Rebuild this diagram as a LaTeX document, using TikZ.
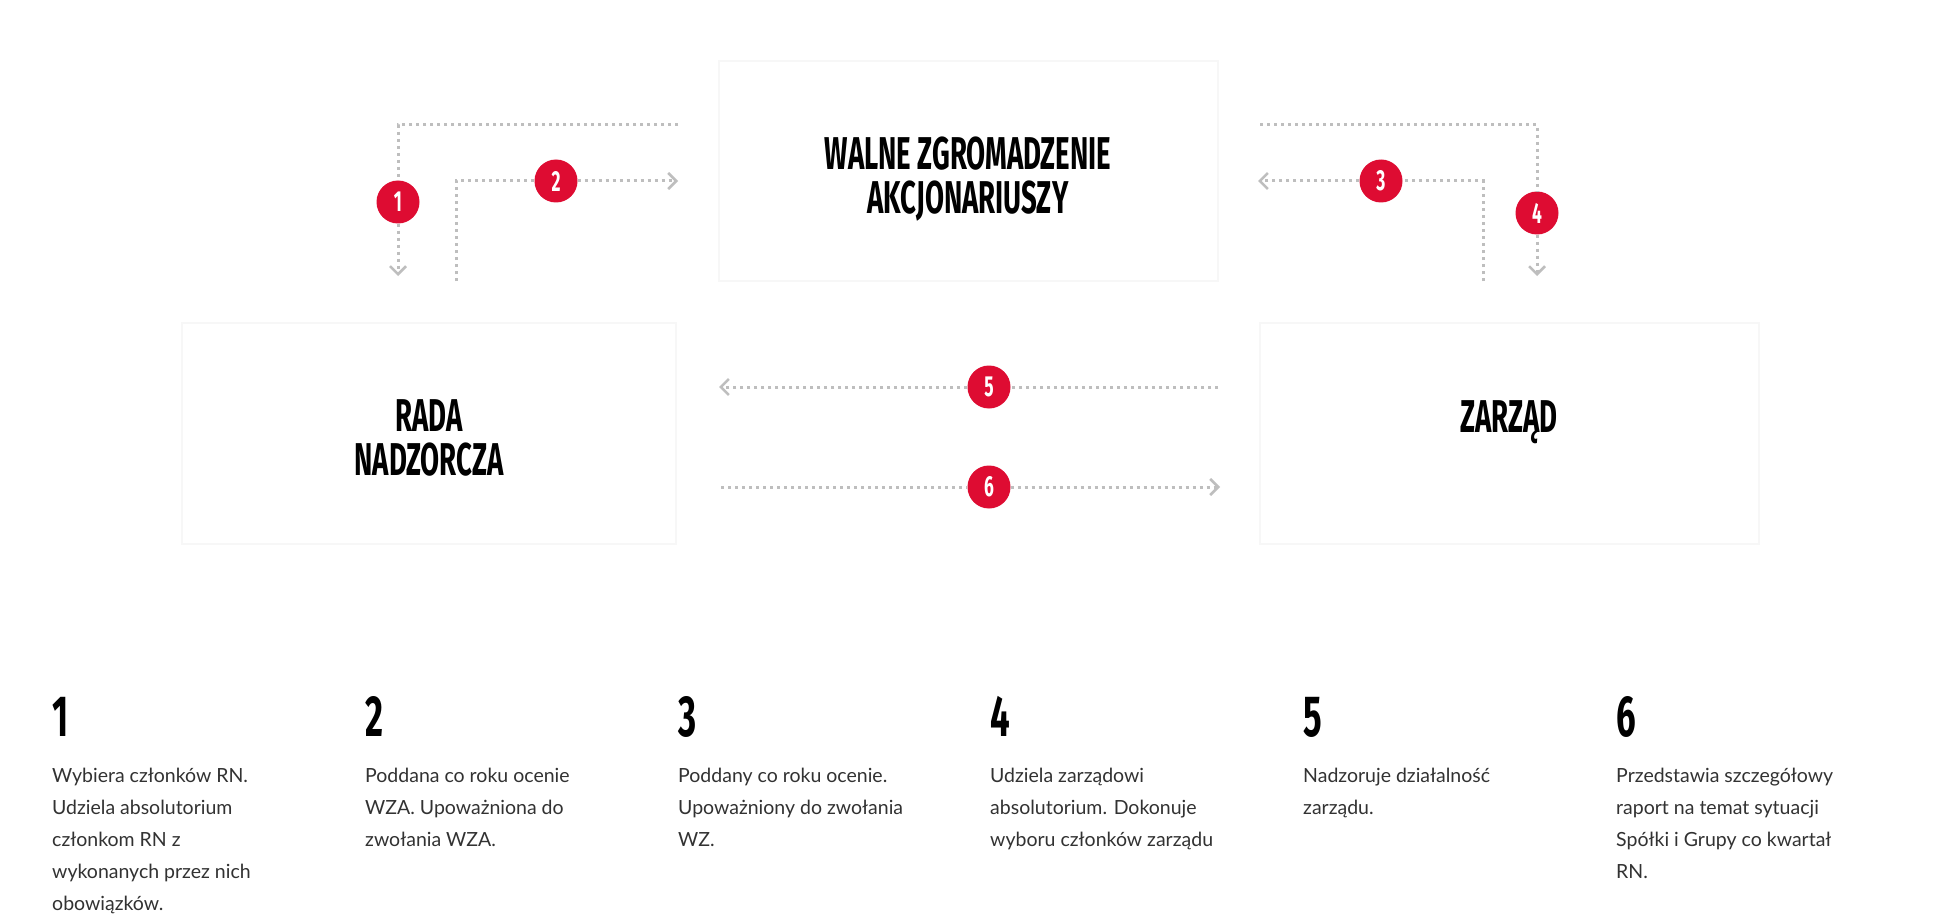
\documentclass[tikz,border=0pt]{standalone}
\usepackage{fontspec}
\setmainfont{Lato}
\newfontfamily\bebas{Fira Sans}[FakeStretch=0.6]
\usetikzlibrary{arrows.meta}
\definecolor{badgered}{RGB}{222,12,50}
\definecolor{dotgray}{RGB}{190,190,190}
\definecolor{boxline}{RGB}{247,247,247}
\definecolor{bodytext}{RGB}{50,50,50}
\tikzstyle{panel}=[draw=boxline,line width=2pt,fill=white,inner sep=0pt]
\tikzstyle{title}=[align=center,inner sep=0pt,text depth=0pt,text=black,font=\bebas\bfseries\fontsize{46}{44}\selectfont]
\tikzstyle{badge}=[circle,fill=badgered,inner sep=0pt,minimum size=43pt,text=white,font=\bebas\bfseries\fontsize{29}{29}\selectfont]
\tikzstyle{link}=[draw=dotgray,line width=3pt,dash pattern=on 3pt off 4pt]
\tikzstyle{linkhead}=[-{Straight Barb[length=8pt,width=16pt,line width=2.5pt]}]
\tikzstyle{bignum}=[anchor=base west,inner sep=0pt,text=black,font=\bebas\bfseries\fontsize{58}{58}\selectfont]
\tikzstyle{note}=[anchor=north west,inner sep=0pt,align=left,text=bodytext,font=\fontsize{19.5}{32}\selectfont]

\begin{document}
\begin{tikzpicture}[x=1pt,y=-1pt]
\path[fill=white,use as bounding box] (0,0) rectangle (1933,920);

\node[panel,minimum width=499pt,minimum height=219pt] (wza) at (968,171) {};
\node[panel,minimum width=494pt,minimum height=221pt] (rn) at (429,433) {};
\node[panel,minimum width=499pt,minimum height=221pt] (zar) at (1509,433) {};
\node[title] (wzat) at (968,175) {WALNE ZGROMADZENIE\\AKCJONARIUSZY};
\node[title] (rnt) at (429,438) {RADA\\NADZORCZA};
\node[title] (zart) at (1509,417) {ZARZĄD};

\node[badge] (n1) at (398,202) {1};
\node[badge] (n2) at (556,181) {2};
\node[badge] (n3) at (1381,181) {3};
\node[badge] (n4) at (1537,213) {4};
\node[badge] (n5) at (989,387) {5};
\node[badge] (n6) at (989,487) {6};

\coordinate (c1a) at (678,125);
\coordinate (c1b) at (398,276);
\coordinate (c2a) at (456,281);
\coordinate (c2b) at (678,181);
\coordinate (c3a) at (1483,281);
\coordinate (c3b) at (1258,181);
\coordinate (c4a) at (1260,125);
\coordinate (c4b) at (1537,276);
\coordinate (c5a) at (1218,387);
\coordinate (c5b) at (719,387);
\coordinate (c6a) at (721,487);
\coordinate (c6b) at (1220,487);

\path[link] (c1a) -| (n1);
\path[link,linkhead] (n1) -- (c1b);
\path[link] (c2a) |- (n2);
\path[link,linkhead] (n2) -- (c2b);
\path[link] (c3a) |- (n3);
\path[link,linkhead] (n3) -- (c3b);
\path[link] (c4a) -| (n4);
\path[link,linkhead] (n4) -- (c4b);
\path[link] (c5a) -- (n5);
\path[link,linkhead] (n5) -- (c5b);
\path[link] (c6a) -- (n6);
\path[link,linkhead] (n6) -- (c6b);

\node[bignum] (k1) at (52,736) {1};
\node[bignum] (k2) at (365,736) {2};
\node[bignum] (k3) at (678,736) {3};
\node[bignum] (k4) at (990,736) {4};
\node[bignum] (k5) at (1303,736) {5};
\node[bignum] (k6) at (1616,736) {6};

\node[note] (t1) at (52,768) {Wybiera członków RN.\\Udziela absolutorium\\członkom RN z\\wykonanych przez nich\\obowiązków.};
\node[note] (t2) at (365,768) {Poddana co roku ocenie\\WZA. Upoważniona do\\zwołania WZA.};
\node[note] (t3) at (678,768) {Poddany co roku ocenie.\\Upoważniony do zwołania\\WZ.};
\node[note] (t4) at (990,768) {Udziela zarządowi\\absolutorium. Dokonuje\\wyboru członków zarządu};
\node[note] (t5) at (1303,768) {Nadzoruje działalność\\zarządu.};
\node[note] (t6) at (1616,768) {Przedstawia szczegółowy\\raport na temat sytuacji\\Spółki i Grupy co kwartał\\RN.};
\end{tikzpicture}
\end{document}
